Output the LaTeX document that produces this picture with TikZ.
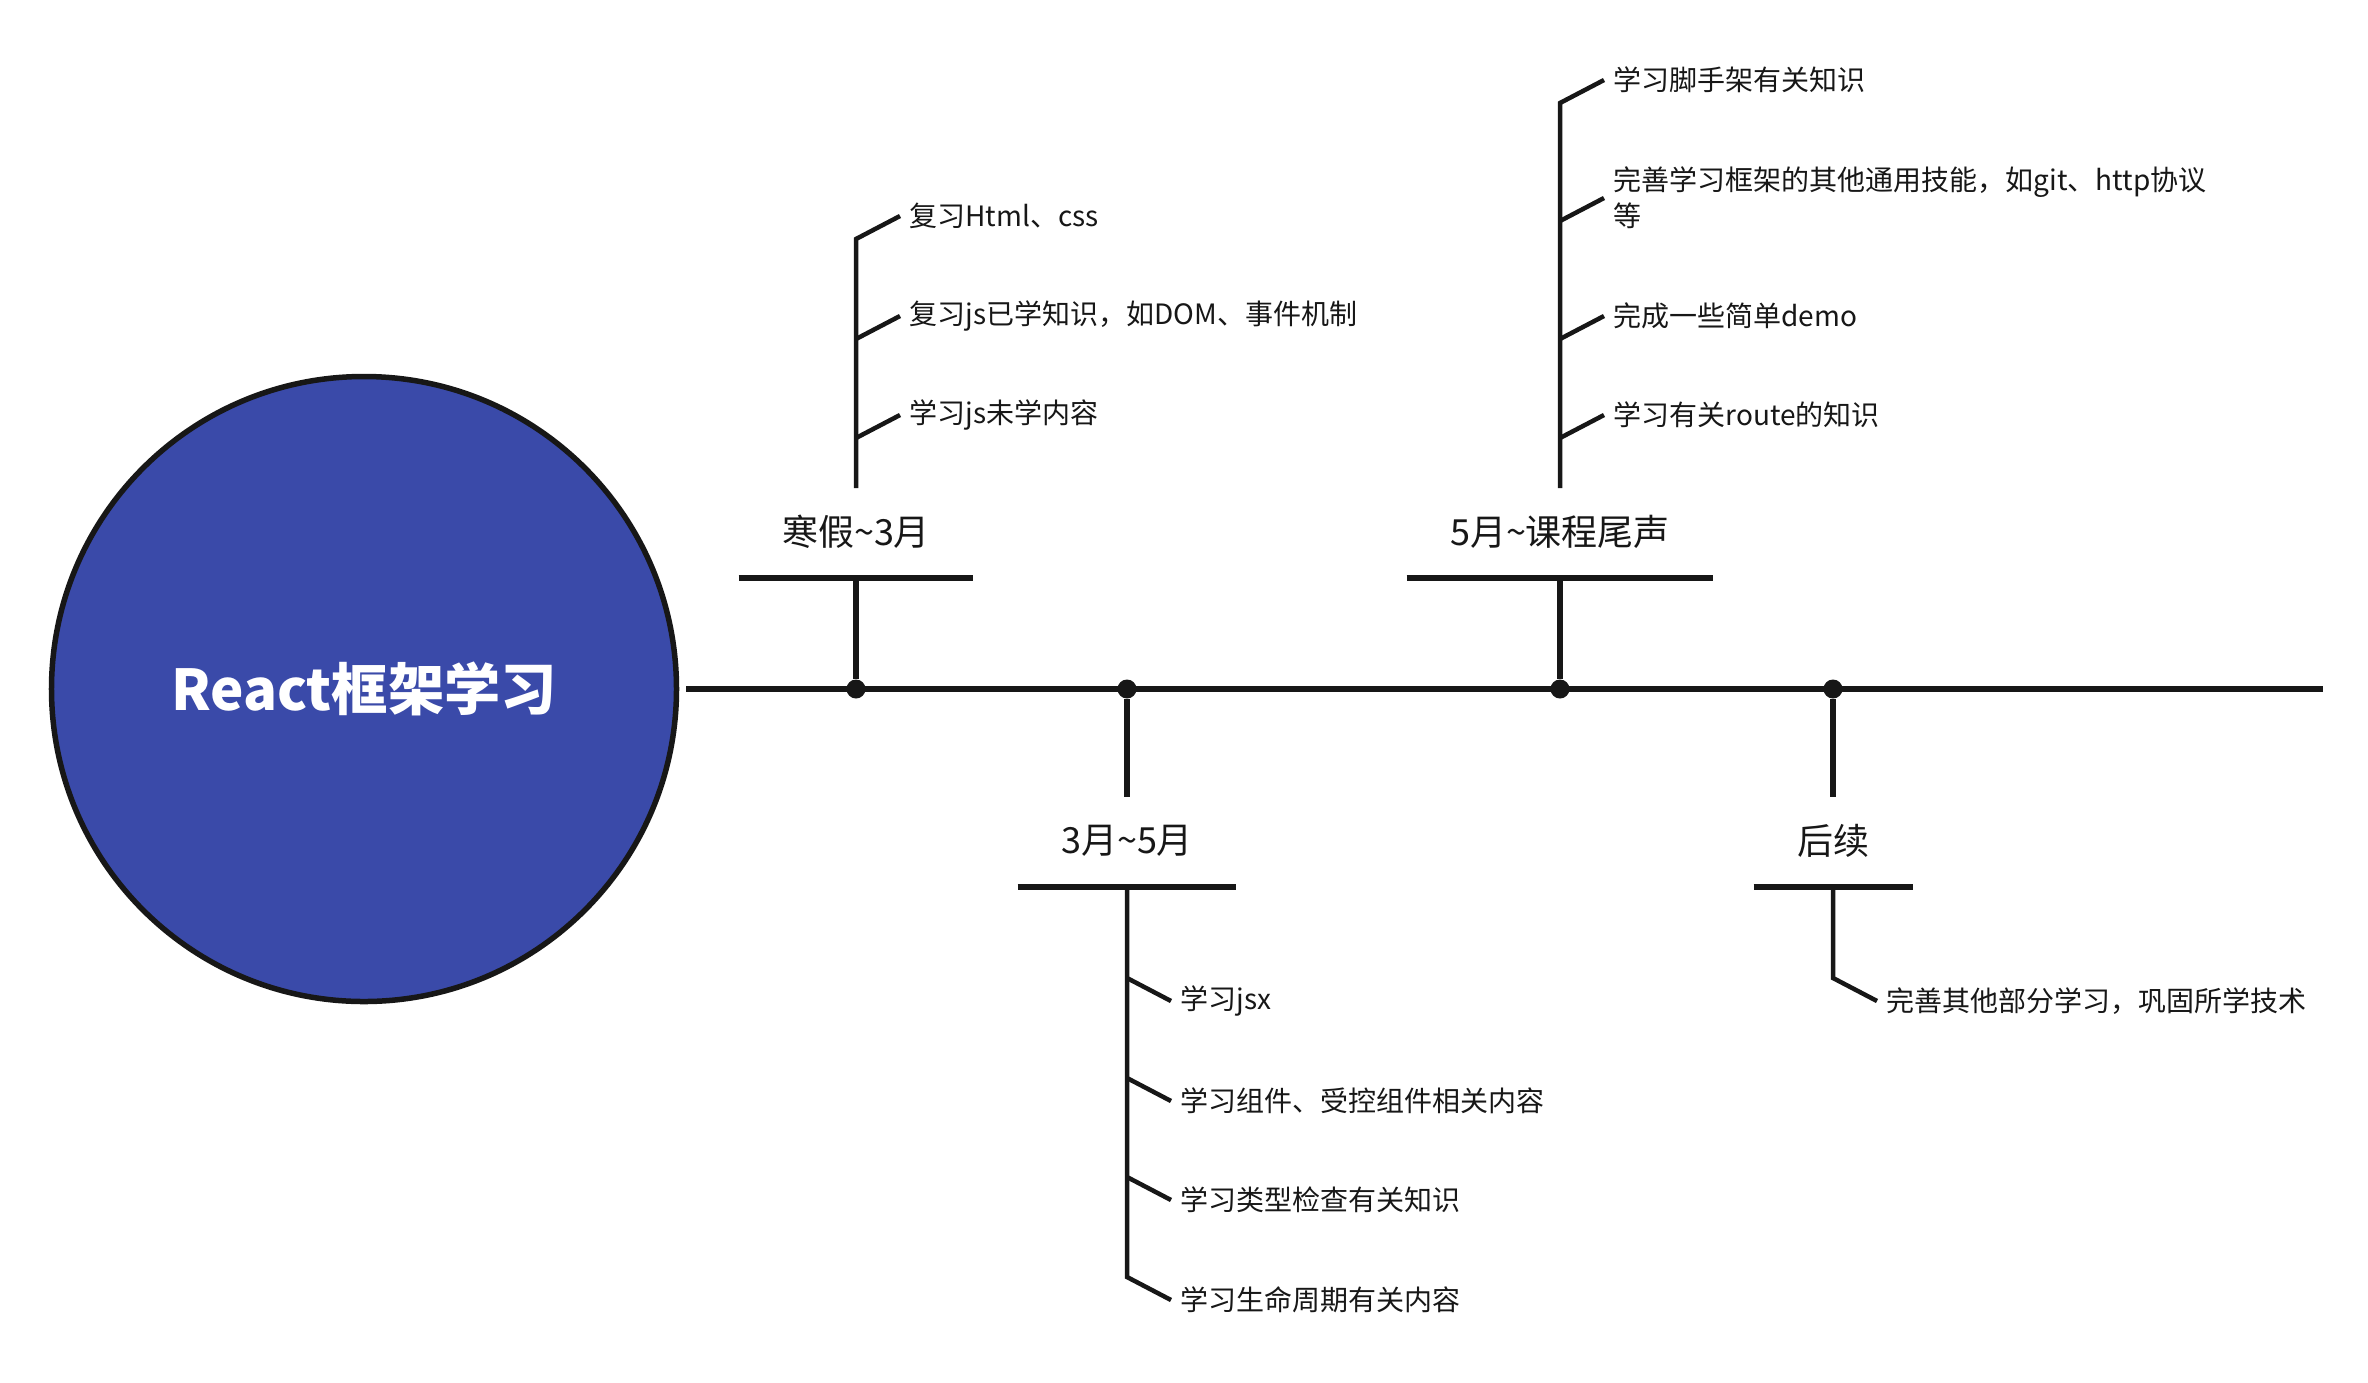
\documentclass[tikz,border=0pt]{standalone}
\usepackage{fontspec}
\setmainfont{Noto Sans CJK SC}
\definecolor{rootblue}{HTML}{3A4AA9}
\definecolor{ink}{HTML}{171717}
\tikzset{
  root/.style={circle, draw=ink, line width=2.2pt, fill=rootblue, minimum size=250pt, text=white, font=\fontsize{22.5}{27}\selectfont\bfseries},
  trunk/.style={draw=ink, line width=2.4pt},
  dot/.style={circle, fill=ink, inner sep=0pt, minimum size=7.6pt},
  stem/.style={draw=ink, line width=2.2pt},
  bar/.style={draw=ink, line width=2.4pt},
  twig/.style={draw=ink, line width=1.8pt},
  period/.style={inner xsep=17.2pt, inner ysep=0pt, text=ink, font=\fontsize{14.4}{17}\selectfont},
  item/.style={anchor=west, inner xsep=3.6pt, inner ysep=0pt, align=left, text=ink, font=\fontsize{11.2}{14.4}\selectfont}
}
\begin{document}
\begin{tikzpicture}[x=0.4pt,y=-0.4pt]
\useasboundingbox (0,0) rectangle (2368,1382);
\node [root] (root) at (364,689) {React框架学习};
\coordinate (tail) at (2323,689);
\draw [trunk] ([xshift=2.8pt]root.east) -- (tail);
\node [dot] (d1) at (856,689) {};
\node [dot] (d2) at (1127,689) {};
\node [dot] (d3) at (1560,689) {};
\node [dot] (d4) at (1833,689) {};
\node [period] (t1) at (856,532) {寒假\textasciitilde 3月};
\node [period] (t2) at (1127,841) {3月\textasciitilde 5月};
\node [period] (t3) at (1560,532) {5月\textasciitilde 课程尾声};
\node [period] (t4) at (1833,841) {后续};
\foreach \t in {t1,t2,t3,t4}
  \draw [bar] ([yshift=-18.4pt]\t.west) -- ([yshift=-18.4pt]\t.east);
\draw [stem] (d1) -- ([yshift=-18.4pt]t1.center);
\draw [stem] (d3) -- ([yshift=-18.4pt]t3.center);
\draw [stem] (d2) -- ([yshift=17.6pt]t2.center);
\draw [stem] (d4) -- ([yshift=17.6pt]t4.center);
\node [item] (c11) at (900,216) {复习Html、css};
\node [item] (c12) at (900,316) {复习js已学知识，如DOM、事件机制};
\node [item] (c13) at (900,415) {学习js未学内容};
\draw [twig] (c11.west) -- ++(-44,23) -- ([yshift=17.6pt]t1.center);
\draw [twig] (c12.west) -- ++(-44,23);
\draw [twig] (c13.west) -- ++(-44,23);
\node [item] (c31) at (1604,80) {学习脚手架有关知识};
\node [item] (c32) at (1604,198) {完善学习框架的其他通用技能，如git、http协议\\等};
\node [item] (c33) at (1604,316) {完成一些简单demo};
\node [item] (c34) at (1604,415) {学习有关route的知识};
\draw [twig] (c31.west) -- ++(-44,23) -- ([yshift=17.6pt]t3.center);
\draw [twig] (c32.west) -- ++(-44,23);
\draw [twig] (c33.west) -- ++(-44,23);
\draw [twig] (c34.west) -- ++(-44,23);
\node [item] (c21) at (1171,1001) {学习jsx};
\node [item] (c22) at (1171,1101) {学习组件、受控组件相关内容};
\node [item] (c23) at (1171,1200) {学习类型检查有关知识};
\node [item] (c24) at (1171,1300) {学习生命周期有关内容};
\draw [twig] (c24.west) -- ++(-44,-23) -- ([yshift=-18.4pt]t2.center);
\draw [twig] (c21.west) -- ++(-44,-23);
\draw [twig] (c22.west) -- ++(-44,-23);
\draw [twig] (c23.west) -- ++(-44,-23);
\node [item] (c41) at (1877,1001) {完善其他部分学习，巩固所学技术};
\draw [twig] (c41.west) -- ++(-44,-23) -- ([yshift=-18.4pt]t4.center);
\end{tikzpicture}
\end{document}
